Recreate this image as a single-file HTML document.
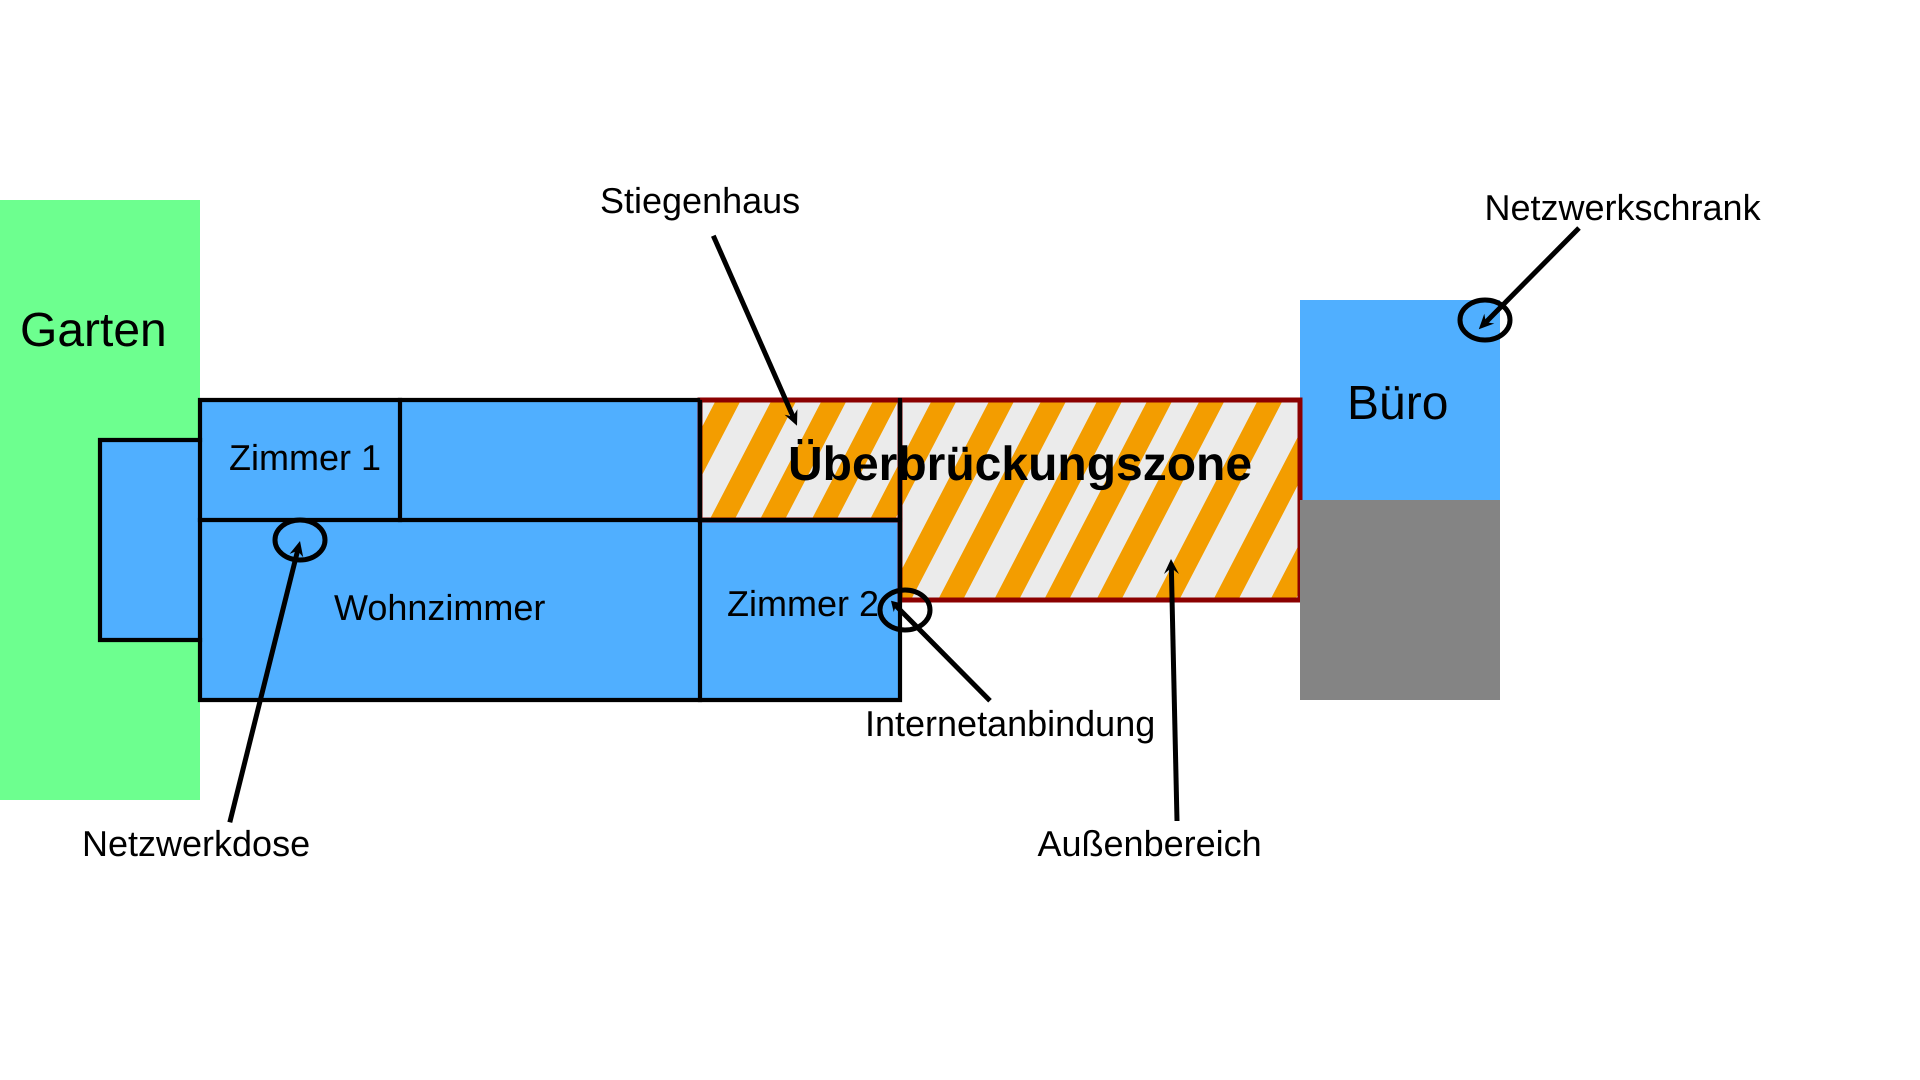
<!DOCTYPE html>
<html lang="de">
<head>
<meta charset="utf-8">
<title>Netzwerkplan</title>
<style>
html,body{margin:0;padding:0;background:#fff;width:1920px;height:1080px;overflow:hidden}
svg{display:block}
text{font-family:"Liberation Sans",Arial,sans-serif;fill:#000;text-rendering:geometricPrecision}
</style>
</head>
<body>
<svg width="1920" height="1080" viewBox="0 0 1920 1080" xmlns="http://www.w3.org/2000/svg">
<defs>
<clipPath id="zone"><polygon points="700,400 1300,400 1300,600 900,600 900,520 700,520"/></clipPath>
</defs>
<rect width="1920" height="1080" fill="#fff"/>
<!-- Garten -->
<rect x="0" y="200" width="200" height="600" fill="#6dff8f"/>
<!-- Haus -->
<rect x="100" y="440" width="100" height="200" fill="#50afff"/>
<rect x="200" y="400" width="700" height="300" fill="#50afff"/>
<!-- Buero -->
<rect x="1300" y="300" width="200" height="200" fill="#50afff"/>
<!-- Zone -->
<polygon points="700,400 1300,400 1300,600 900,600 900,520 700,520" fill="#ebebeb"/>
<g clip-path="url(#zone)">
<path fill="#f39d00" d="M721.2 390h25l-114.2 220h-25z M776.9 390h25l-114.2 220h-25z M827.2 390h25l-114.2 220h-25z M878.9 390h25l-114.2 220h-25z M937.2 390h25l-114.2 220h-25z M994.9 390h25l-114.2 220h-25z M1046.9 390h25l-114.2 220h-25z M1102.9 390h25l-114.2 220h-25z M1152.9 390h25l-114.2 220h-25z M1205.2 390h25l-114.2 220h-25z M1263.2 390h25l-114.2 220h-25z M1322.2 390h25l-114.2 220h-25z M1379.2 390h25l-114.2 220h-25z"/>
</g>
<rect x="700" y="400" width="200" height="120" fill="none" stroke="#8b0000" stroke-width="5"/>
<rect x="900" y="400" width="400" height="200" fill="none" stroke="#8b0000" stroke-width="5"/>
<!-- Grau -->
<rect x="1300" y="500" width="200" height="200" fill="#848484"/>
<!-- Schwarze Linien -->
<g fill="none" stroke="#000" stroke-width="4.2" stroke-linecap="square">
<path d="M200 440H100V640H200"/>
<path d="M698 400H200V700H900V400"/>
<path d="M400 400V520"/>
<path d="M200 520H900"/>
<path d="M700 402V700"/>
</g>
<!-- Ellipsen -->
<g fill="none" stroke="#000" stroke-width="5">
<ellipse cx="300" cy="540" rx="25" ry="20"/>
<ellipse cx="905" cy="610" rx="25" ry="20"/>
<ellipse cx="1485" cy="320" rx="25" ry="20"/>
</g>
<!-- Pfeile -->
<g stroke="#000" stroke-width="5" fill="none">
<line x1="229.8" y1="822.3" x2="297.6" y2="550.7"/>
<line x1="713.3" y1="235.7" x2="793" y2="416.5"/>
<line x1="990" y1="700.7" x2="895.9" y2="605.7"/>
<line x1="1177" y1="821" x2="1171.3" y2="566"/>
<line x1="1579" y1="228" x2="1485.8" y2="322.2"/>
</g>
<g fill="#000">
<polygon points="300,541 303.2,557.3 297.6,550.7 289.6,553.9"/>
<polygon points="797,425.7 784.6,414.8 793,416.5 797.4,409.2"/>
<polygon points="891,600.7 902.3,603.6 895.9,605.7 893.7,612"/>
<polygon points="1171,559 1179,574 1171.3,568 1164,574"/>
<polygon points="1478.8,329.3 1484.3,313.7 1485.8,322.2 1494.3,323.5"/>
</g>
<!-- Texte -->
<text x="20" y="346" font-size="48">Garten</text>
<text x="1347" y="419" font-size="48">Büro</text>
<text x="788" y="480" font-size="48" font-weight="bold">Überbrückungszone</text>
<text x="229" y="470" font-size="36">Zimmer 1</text>
<text x="334" y="620" font-size="36">Wohnzimmer</text>
<text x="727" y="616" font-size="36">Zimmer 2</text>
<text x="600" y="213" font-size="36">Stiegenhaus</text>
<text x="1484.5" y="220" font-size="36">Netzwerkschrank</text>
<text x="82" y="856" font-size="36">Netzwerkdose</text>
<text x="865" y="736" font-size="36">Internetanbindung</text>
<text x="1037.5" y="856" font-size="36">Außenbereich</text>
</svg>
</body>
</html>
